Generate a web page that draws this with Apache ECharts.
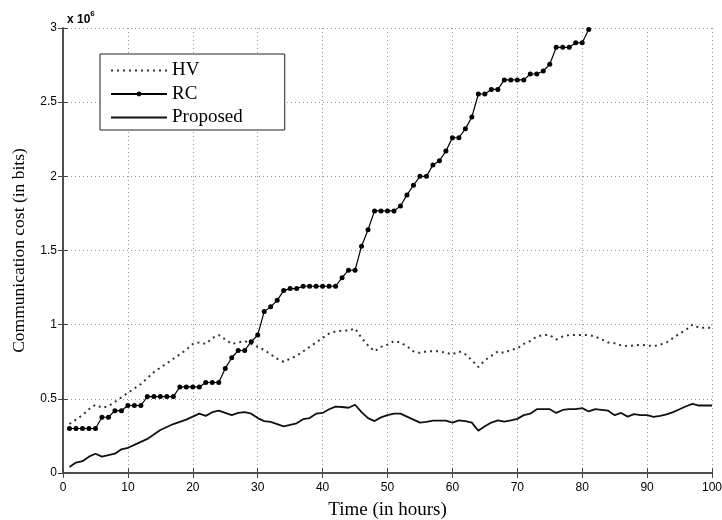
<!DOCTYPE html>
<html>
<head>
<meta charset="utf-8">
<script src="https://cdn.jsdelivr.net/npm/echarts@6/dist/echarts.min.js"></script>
<style>
  html, body { margin: 0; padding: 0; background: #fff; }
  #chart { width: 722px; height: 520px; }
</style>
</head>
<body>
<div id="chart"></div>
<script>
// values in units of 10^6 bits, one per hour starting at hour 1
var hvCost = [
  0.33, 0.36, 0.39, 0.43, 0.46, 0.44, 0.45, 0.48, 0.51, 0.54,
  0.57, 0.60, 0.64, 0.68, 0.71, 0.74, 0.77, 0.80, 0.83, 0.87,
  0.88, 0.87, 0.91, 0.93, 0.90, 0.87, 0.88, 0.89, 0.87, 0.85,
  0.83, 0.80, 0.77, 0.75, 0.77, 0.79, 0.82, 0.85, 0.88, 0.91,
  0.94, 0.955, 0.96, 0.96, 0.975, 0.91, 0.86, 0.82, 0.85, 0.865,
  0.89, 0.88, 0.855, 0.82, 0.81, 0.82, 0.82, 0.82, 0.81, 0.80,
  0.82, 0.80, 0.76, 0.715, 0.76, 0.79, 0.82, 0.81, 0.83, 0.84,
  0.87, 0.89, 0.92, 0.93, 0.93, 0.90, 0.92, 0.93, 0.93, 0.93,
  0.93, 0.92, 0.90, 0.88, 0.875, 0.86, 0.855, 0.86, 0.865, 0.86,
  0.855, 0.865, 0.88, 0.91, 0.94, 0.965, 1.0, 0.98, 0.98, 0.98
]

var rcCost = [
  0.30, 0.30, 0.30, 0.30, 0.30, 0.376, 0.376, 0.42, 0.42, 0.455,
  0.455, 0.455, 0.515, 0.515, 0.515, 0.515, 0.515, 0.58, 0.58, 0.58,
  0.58, 0.61, 0.61, 0.61, 0.705, 0.777, 0.826, 0.826, 0.885, 0.93,
  1.088, 1.12, 1.164, 1.23, 1.243, 1.243, 1.259, 1.259, 1.259, 1.259,
  1.259, 1.259, 1.317, 1.367, 1.367, 1.529, 1.64, 1.767, 1.767, 1.767,
  1.767, 1.80, 1.875, 1.94, 2.0, 2.0, 2.076, 2.105, 2.17, 2.26,
  2.26, 2.32, 2.40, 2.555, 2.555, 2.586, 2.586, 2.65, 2.65, 2.65,
  2.65, 2.69, 2.69, 2.71, 2.755, 2.87, 2.87, 2.87, 2.90, 2.90,
  2.99
]

var proposedCost = [
  0.04, 0.07, 0.08, 0.11, 0.13, 0.11, 0.12, 0.13, 0.16, 0.17,
  0.19, 0.21, 0.23, 0.26, 0.29, 0.31, 0.33, 0.345, 0.36, 0.38,
  0.40, 0.385, 0.41, 0.42, 0.405, 0.39, 0.405, 0.41, 0.40, 0.37,
  0.35, 0.345, 0.33, 0.315, 0.325, 0.335, 0.363, 0.37, 0.40, 0.405,
  0.43, 0.448, 0.445, 0.44, 0.46, 0.41, 0.37, 0.35, 0.375, 0.39,
  0.40, 0.40, 0.38, 0.36, 0.34, 0.345, 0.353, 0.353, 0.353, 0.34,
  0.355, 0.35, 0.34, 0.285, 0.315, 0.34, 0.355, 0.347, 0.355, 0.365,
  0.39, 0.40, 0.43, 0.43, 0.43, 0.405, 0.425, 0.43, 0.43, 0.437,
  0.415, 0.43, 0.425, 0.42, 0.39, 0.405, 0.38, 0.397, 0.39, 0.39,
  0.378, 0.385, 0.395, 0.41, 0.43, 0.45, 0.466, 0.455, 0.455, 0.455
]

function withHours (values) {
  return values.map(function (v, i) { return [i + 1, v] })
}

var axisColor = '#444'
var gridStyle = { show: true, lineStyle: { color: '#999', type: [1, 3], width: 1 } }
var sansFont = 'Liberation Sans, Arial, sans-serif'
var serifFont = 'Liberation Serif, Times New Roman, serif'
var tickFont = { color: '#000', fontFamily: sansFont, fontSize: 12 }

var frameAxis = {
  axisLine: { show: true, lineStyle: { color: axisColor, width: 1.5 } },
  axisTick: { show: true, inside: true, length: 5, lineStyle: { color: axisColor } },
  axisLabel: { show: false },
  splitLine: { show: false }
}

var option = {
  backgroundColor: '#fff',
  animation: false,
  grid: { left: 63, right: 10, top: 28, bottom: 47, outerBoundsMode: 'none', containLabel: false },
  title: {
    text: '{b|x 10}{s|6}',
    left: 62,
    top: 5,
    textStyle: {
      rich: {
        b: { fontFamily: sansFont, fontSize: 12, color: '#000', verticalAlign: 'bottom' },
        s: { fontFamily: sansFont, fontSize: 8, color: '#000', verticalAlign: 'top', padding: [0, 0, 8, 0] }
      }
    }
  },
  legend: {
    data: [
      { name: 'HV', itemStyle: { opacity: 0 } },
      { name: 'RC' },
      { name: 'Proposed', itemStyle: { opacity: 0 } }
    ],
    orient: 'vertical',
    left: 100,
    top: 54,
    backgroundColor: '#fff',
    borderColor: '#222',
    borderWidth: 1,
    padding: [7, 42, 3, 10],
    itemWidth: 56,
    itemHeight: 6,
    itemGap: 4.5,
    textStyle: { fontFamily: serifFont, fontSize: 19, color: '#000' }
  },
  xAxis: [
    {
      type: 'value',
      min: 0,
      max: 100,
      interval: 10,
      name: 'Time (in hours)',
      nameLocation: 'middle',
      nameGap: 28,
      nameTextStyle: { fontFamily: serifFont, fontSize: 19, color: '#000' },
      axisLine: { show: true, lineStyle: { color: axisColor, width: 1.5 } },
      axisTick: { show: true, inside: true, length: 5, lineStyle: { color: axisColor } },
      axisLabel: Object.assign({ margin: 9 }, tickFont),
      splitLine: gridStyle
    },
    Object.assign({ type: 'value', position: 'top', min: 0, max: 100, interval: 10 }, frameAxis)
  ],
  yAxis: [
    {
      type: 'value',
      min: 0,
      max: 3,
      interval: 0.5,
      name: 'Communication cost (in bits)',
      nameLocation: 'middle',
      nameGap: 35,
      nameTextStyle: { fontFamily: serifFont, fontSize: 17.5, color: '#000' },
      axisLine: { show: true, lineStyle: { color: axisColor, width: 1.5 } },
      axisTick: { show: true, inside: true, length: 5, lineStyle: { color: axisColor } },
      axisLabel: Object.assign({ margin: 6 }, tickFont),
      splitLine: gridStyle
    },
    Object.assign({ type: 'value', position: 'right', min: 0, max: 3, interval: 0.5 }, frameAxis)
  ],
  series: [
    {
      name: 'HV',
      type: 'line',
      symbol: 'none',
      data: withHours(hvCost),
      itemStyle: { color: '#333' },
      lineStyle: { color: '#333', width: 2, type: [2, 4] }
    },
    {
      name: 'RC',
      type: 'line',
      symbol: 'circle',
      symbolSize: 5,
      clip: true,
      data: withHours(rcCost),
      itemStyle: { color: '#000' },
      lineStyle: { color: '#000', width: 1.2 }
    },
    {
      name: 'Proposed',
      type: 'line',
      symbol: 'none',
      data: withHours(proposedCost),
      itemStyle: { color: '#000' },
      lineStyle: { color: '#111', width: 1.8 }
    }
  ]
}

var myChart = echarts.init(document.getElementById('chart'))
myChart.setOption(option)
</script>
</body>
</html>
